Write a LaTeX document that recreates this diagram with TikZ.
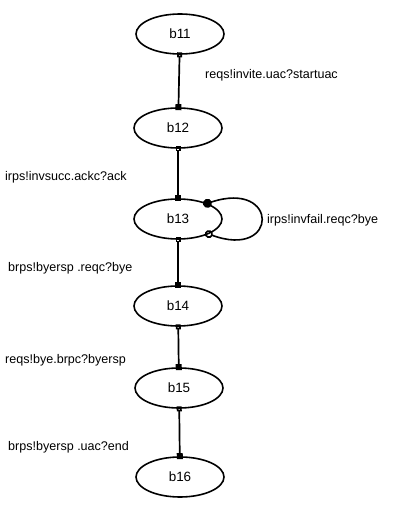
\documentclass[tikz,border=0pt]{standalone}
\usepackage{fontspec}
\setmainfont{Liberation Sans}
\usetikzlibrary{shapes.geometric,arrows.meta}
\tikzset{
  bstate/.style={ellipse, draw, line width=1.6bp, minimum width=88bp, minimum height=40bp, inner sep=0pt, font=\fontsize{13.5}{15}\selectfont},
  blabel/.style={anchor=west, inner sep=0pt, font=\fontsize{12.6}{14}\selectfont},
  btrans/.style={line width=1.7bp, {Square[open,length=5bp,width=5bp,sep=-2.5bp]}-{Square[length=6bp,width=6bp,sep=-3bp]}},
  bloop/.style={line width=1.6bp, {Circle[open,length=8bp,sep=-4bp]}-{Circle[length=9bp,sep=-4.5bp]}}
}
\begin{document}
\begin{tikzpicture}[x=1bp,y=-1bp]
\useasboundingbox (0,0) rectangle (416,527);
\node[bstate] (b11) at (180,34){b11};
\node[bstate] (b12) at (178,128){b12};
\node[bstate] (b13) at (178,219){b13};
\node[bstate] (b14) at (178,306){b14};
\node[bstate] (b15) at (179,388){b15};
\node[bstate] (b16) at (180,477){b16};
\draw[btrans](b11) -- (b12);
\node[blabel] (l1) at (205,75){reqs!invite.uac?startuac};
\draw[btrans](b12) -- (b13);
\node[blabel] (l2) at (5,177){irps!invsucc.ackc?ack};
\draw[bloop](b13.-26) .. controls +(70,26) and +(72,-24) .. (b13.28);
\node[blabel] (l3) at (267,220){irps!invfail.reqc?bye};
\draw[btrans](b13) -- (b14);
\node[blabel] (l4) at (8,268){brps!byersp .reqc?bye};
\draw[btrans](b14) -- (b15);
\node[blabel] (l5) at (5,360){reqs!bye.brpc?byersp};
\draw[btrans](b15) -- (b16);
\node[blabel] (l6) at (8,447){brps!byersp .uac?end};
\end{tikzpicture}
\end{document}
